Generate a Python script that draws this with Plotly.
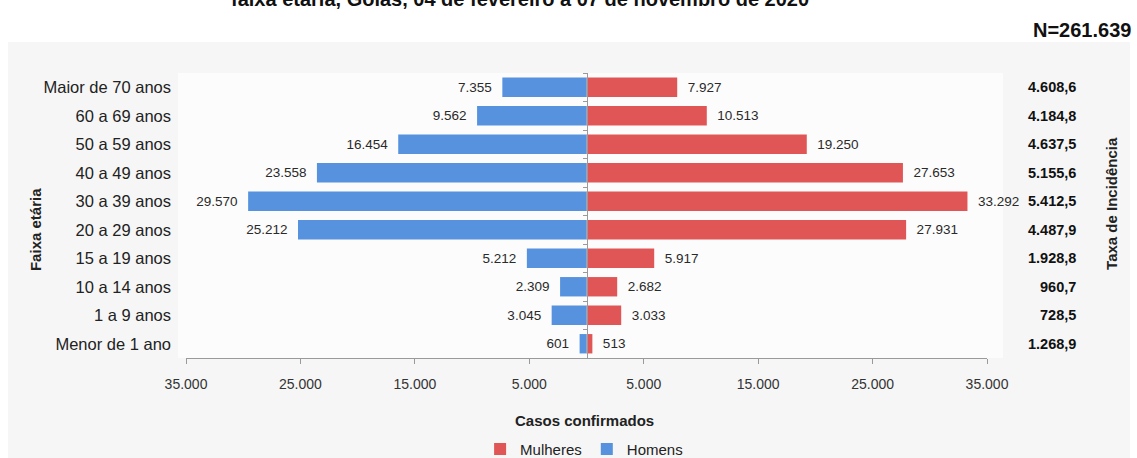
import plotly.graph_objects as go

categories = ["Menor de 1 ano", "1 a 9 anos", "10 a 14 anos", "15 a 19 anos",
              "20 a 29 anos", "30 a 39 anos", "40 a 49 anos", "50 a 59 anos",
              "60 a 69 anos", "Maior de 70 anos"]
homens = [601, 3045, 2309, 5212, 25212, 29570, 23558, 16454, 9562, 7355]
mulheres = [513, 3033, 2682, 5917, 27931, 33292, 27653, 19250, 10513, 7927]
taxa = [1268.9, 728.5, 960.7, 1928.8, 4487.9, 5412.5, 5155.6, 4637.5, 4184.8, 4608.6]
tick_vals = [-35000, -25000, -15000, -5000, 5000, 15000, 25000, 35000]


def br_int(v):
    return f"{abs(v):,}".replace(",", ".")


def br_dec(v):
    s = f"{v:,.1f}"
    return s.replace(",", "X").replace(".", ",").replace("X", ".")


FONT = "Liberation Sans, Arial, sans-serif"
PAD = "\u00a0\u00a0"

fig = go.Figure()
fig.add_trace(go.Bar(
    y=categories, x=mulheres, orientation="h", name="Mulheres",
    marker=dict(color="#e05656", line=dict(width=0)), width=0.68,
    text=[PAD + br_int(v) for v in mulheres], textposition="outside",
    textfont=dict(size=13.5, color="#2a2a2a", family=FONT), cliponaxis=False,
))
fig.add_trace(go.Bar(
    y=categories, x=[-v for v in homens], orientation="h", name="Homens",
    marker=dict(color="#5692de", line=dict(width=0)), width=0.68,
    text=[br_int(v) + PAD for v in homens], textposition="outside",
    textfont=dict(size=13.5, color="#2a2a2a", family=FONT), cliponaxis=False,
))
# invisible trace to carry the central axis
fig.add_trace(go.Scatter(
    y=categories, x=[0] * len(categories), yaxis="y2", mode="markers",
    marker=dict(opacity=0), showlegend=False, hoverinfo="skip",
))

annotations = []
for c, t in zip(categories, taxa):
    annotations.append(dict(
        x=1.1136, xref="paper", y=c, yref="y", text=f"<b>{br_dec(t)}</b>",
        showarrow=False, xanchor="right", yanchor="middle",
        font=dict(size=14.5, color="#111111", family=FONT)))

annotations += [
    dict(x=0.497, xref="paper", y=-0.22, yref="paper", text="<b>Casos confirmados</b>",
         showarrow=False, xanchor="center", yanchor="middle",
         font=dict(size=15, color="#222222", family=FONT)),
    dict(x=-0.1885, xref="paper", y=0.449, yref="paper", text="<b>Faixa etária</b>",
         textangle=-90, showarrow=False, xanchor="center", yanchor="middle",
         font=dict(size=15, color="#222222", family=FONT)),
    dict(x=1.156, xref="paper", y=0.544, yref="paper", text="<b>Taxa de Incidência</b>",
         textangle=-90, showarrow=False, xanchor="center", yanchor="middle",
         font=dict(size=15, color="#222222", family=FONT)),
    dict(x=1.182, xref="paper", y=1.151, yref="paper", text="<b>N=261.639</b>",
         xanchor="right", yanchor="middle", showarrow=False,
         font=dict(size=20, color="#111111", family=FONT)),
    dict(x=0.417, xref="paper", y=1.2596, yref="paper",
         text="<b>faixa etária, Goiás, 04 de fevereiro a 07 de novembro de 2020</b>",
         showarrow=False, xanchor="center", yanchor="middle",
         font=dict(size=20, color="#111111", family=FONT)),
]

fig.update_layout(
    width=1137, height=458,
    margin=dict(l=186, r=150, t=73, b=100, autoexpand=False),
    paper_bgcolor="white", plot_bgcolor="white",
    barmode="overlay",
    font=dict(family=FONT, color="#222222"),
    showlegend=True,
    legend=dict(orientation="h", x=0.497, xanchor="center", y=-0.32, yanchor="middle",
                font=dict(size=15, color="#222222", family=FONT), traceorder="normal",
                itemwidth=30, bgcolor="rgba(0,0,0,0)"),
    xaxis=dict(range=[-35000, 35000], tickvals=tick_vals,
               ticktext=[br_int(v) for v in tick_vals], showgrid=False, zeroline=False,
               showline=True, linecolor="#9a9a9a", ticks="outside", ticklen=5,
               tickcolor="#9a9a9a", ticklabelstandoff=8,
               tickfont=dict(size=14, color="#333333", family=FONT)),
    yaxis=dict(type="category", categoryorder="array", categoryarray=categories,
               range=[-0.5, 9.5], showgrid=False, showline=False, ticks="",
               ticklabelstandoff=14, tickfont=dict(size=16.5, color="#222222", family=FONT)),
    yaxis2=dict(type="category", categoryorder="array", categoryarray=categories,
                range=[-0.5, 9.5], overlaying="y", anchor="free", position=0.5,
                showline=True, linecolor="#9a9a9a", ticks="outside", tickson="boundaries",
                ticklen=4, tickcolor="#9a9a9a", showticklabels=False, showgrid=False),
    annotations=annotations,
    shapes=[
        dict(type="rect", xref="paper", yref="paper", x0=-0.2222, x1=1.1785,
             y0=-0.351, y1=1.1088, fillcolor="#f6f6f6", line=dict(width=0), layer="below"),
        dict(type="rect", xref="paper", yref="paper", x0=-0.01, x1=1.02,
             y0=0.0, y1=1.0, fillcolor="#fcfcfc", line=dict(width=0), layer="below"),
    ],
)

fig.write_html("out.html", config={"displayModeBar": False},
               post_script="document.body.style.margin='0';")
